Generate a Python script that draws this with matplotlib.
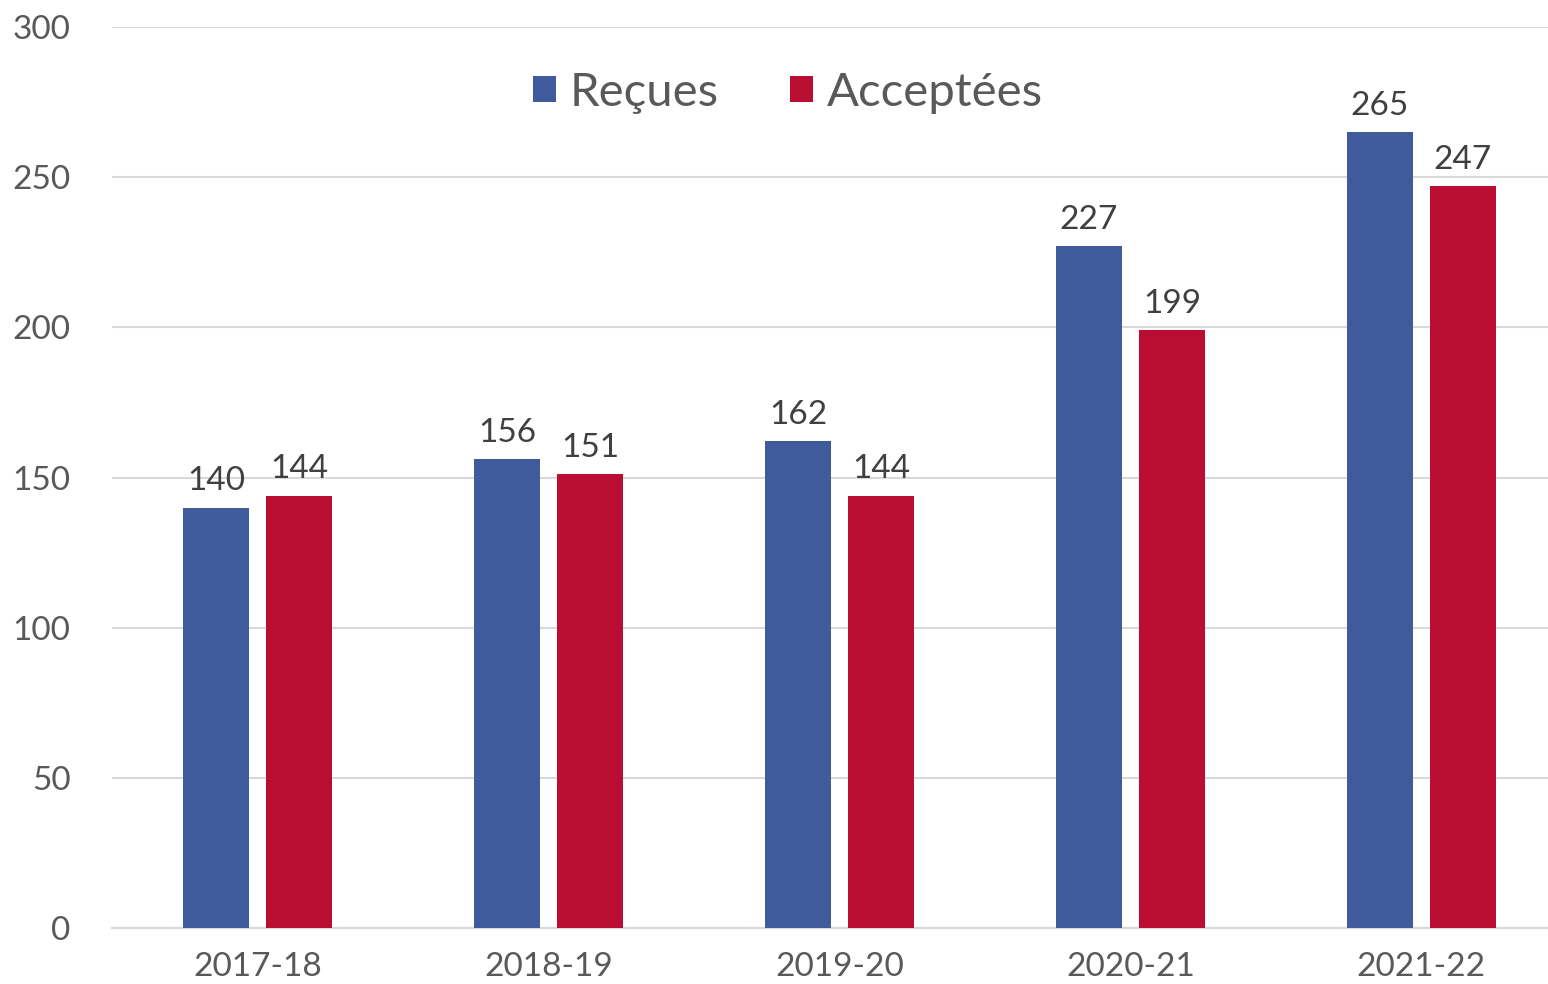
import numpy as np
import matplotlib.pyplot as plt

# data
annees = ["2017-18", "2018-19", "2019-20", "2020-21", "2021-22"]
recues = [140, 156, 162, 227, 265]
acceptees = [144, 151, 144, 199, 247]

bleu = "#3F5B9B"
rouge = "#B90E31"

plt.rcParams["font.family"] = ["Lato", "DejaVu Sans"]

fig = plt.figure(figsize=(15.48, 9.84), dpi=100)
ax = fig.add_axes([112 / 1548, 1 - 928 / 984, 1 - 112 / 1548, 901 / 984])

x = np.arange(len(annees))
w = 0.225
off = 0.1426
b1 = ax.bar(x - off, recues, w, color=bleu, label="Reçues", zorder=3)
b2 = ax.bar(x + off, acceptees, w, color=rouge, label="Acceptées", zorder=3)

for bars in (b1, b2):
    ax.bar_label(bars, padding=8, fontsize=24, color="#404040")

ax.set_xlim(-0.5, 4.435)
ax.set_ylim(0, 300)
ax.set_yticks(range(0, 301, 50))
ax.set_xticks(x)
ax.set_xticklabels(annees)
ax.yaxis.grid(True, color="#D9D9D9", linewidth=1.5, zorder=0)
ax.set_axisbelow(True)
for s in ["top", "right", "left"]:
    ax.spines[s].set_visible(False)
ax.spines["bottom"].set_color("#D9D9D9")
ax.spines["bottom"].set_linewidth(1.5)
ax.tick_params(axis="both", length=0, labelsize=24, colors="#595959")
ax.tick_params(axis="y", pad=30)
ax.tick_params(axis="x", pad=17)

fig.legend(loc="center", bbox_to_anchor=(788 / 1548, 1 - 93 / 984), ncol=2, frameon=False,
           fontsize=34, labelcolor="#595959", handlelength=0.48, handleheight=0.48,
           handletextpad=0.3, columnspacing=1.5)

fig.savefig("out.png", dpi=100)
